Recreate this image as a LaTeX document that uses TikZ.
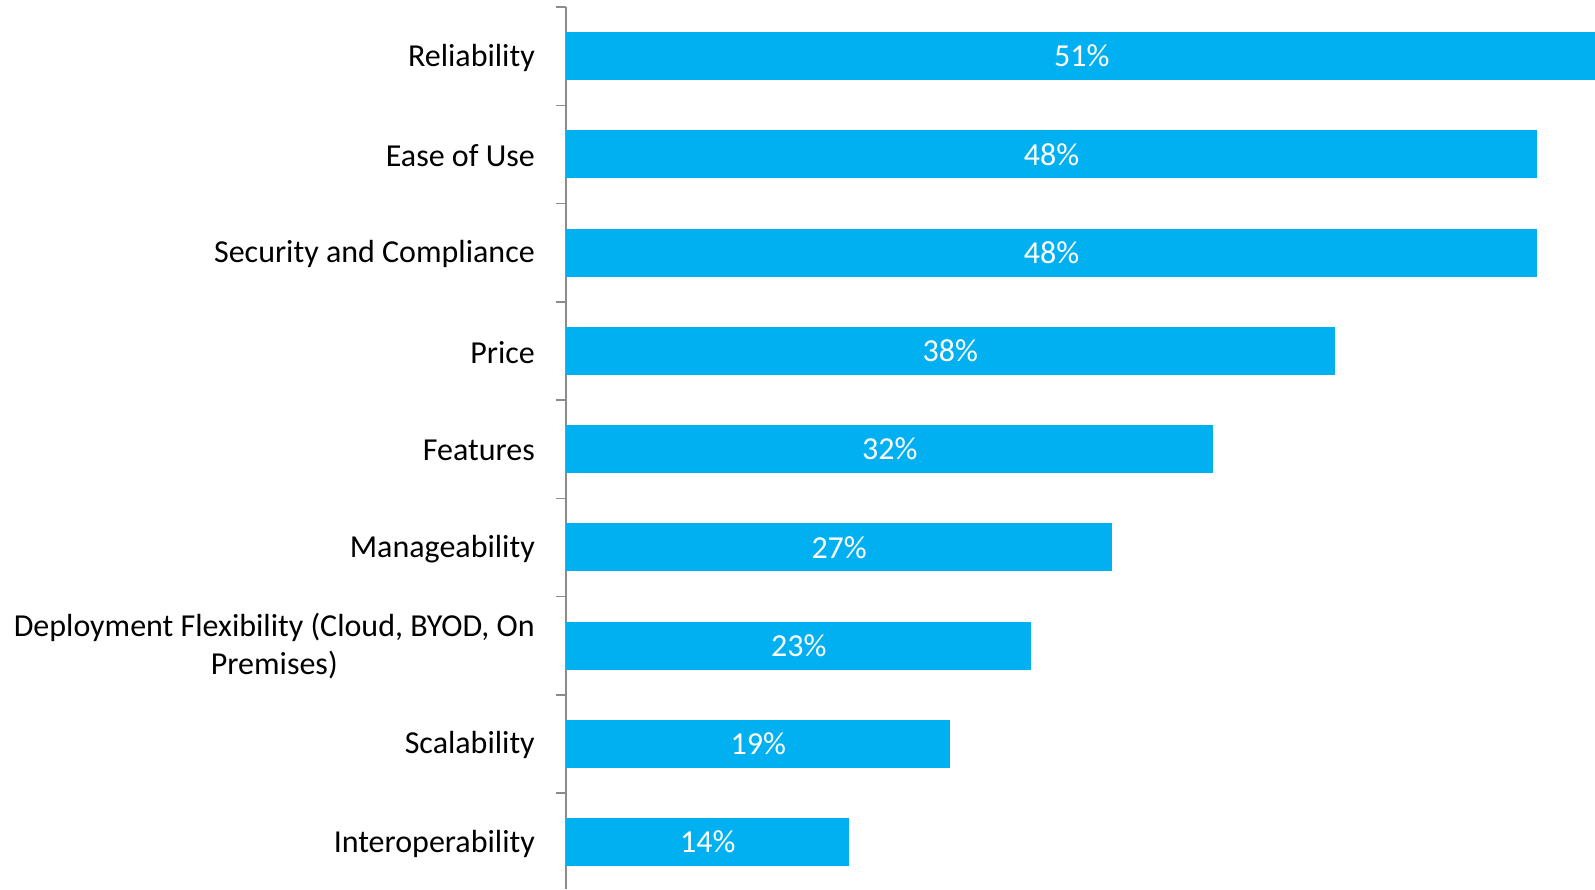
\documentclass[tikz,border=0pt]{standalone}
\usepackage{fontspec}
\setmainfont{Carlito}
\definecolor{barblue}{HTML}{00B0F0}
\definecolor{axisgray}{HTML}{8C8C8C}
\tikzset{
  bar/.style={fill=barblue, draw=none, anchor=west, minimum height=48pt, inner sep=0pt, text=white, font=\fontsize{32}{38.5}\selectfont},
  catlabel/.style={anchor=east, inner sep=0pt, align=center, text=black, font=\fontsize{32}{38.5}\selectfont},
  axisline/.style={draw=axisgray, line width=1.5pt},
}
\begin{document}
\begin{tikzpicture}[x=1pt,y=-1pt]
\clip (0,0) rectangle (1595,889);
\fill[white] (0,0) rectangle (1595,889);
% axis
\coordinate (axtop) at (566,7);
\coordinate (axbot) at (566,889);
\draw[axisline] (axtop) -- (axbot);
\foreach \k in {0,...,8}{
  \draw[axisline] (556,{7+\k*98.25}) -- (566,{7+\k*98.25});
}
% bars: band center = 7 + (k+0.5)*98.25 ; 20.22 per percent
\foreach \k/\v/\lab in {0/51/Reliability,1/48/Ease of Use,2/48/Security and Compliance,3/38/Price,4/32/Features,5/27/Manageability,7/19/Scalability,8/14/Interoperability}{
  \node[bar, minimum width={\v*20.22pt}] (bar\k) at (566,{7+(\k+0.5)*98.25}) {\raisebox{-1.5pt}{\v\%}};
  \node[catlabel] (lab\k) at (535,{8.5+(\k+0.5)*98.25}) {\lab};
}
\node[bar, minimum width={23*20.22pt}] (bar6) at (566,{7+6.5*98.25}) {\raisebox{-1.5pt}{23\%}};
\node[catlabel] (lab6) at (535,{7.5+6.5*98.25}) {Deployment Flexibility (Cloud, BYOD, On\\Premises)};
\end{tikzpicture}
\end{document}
